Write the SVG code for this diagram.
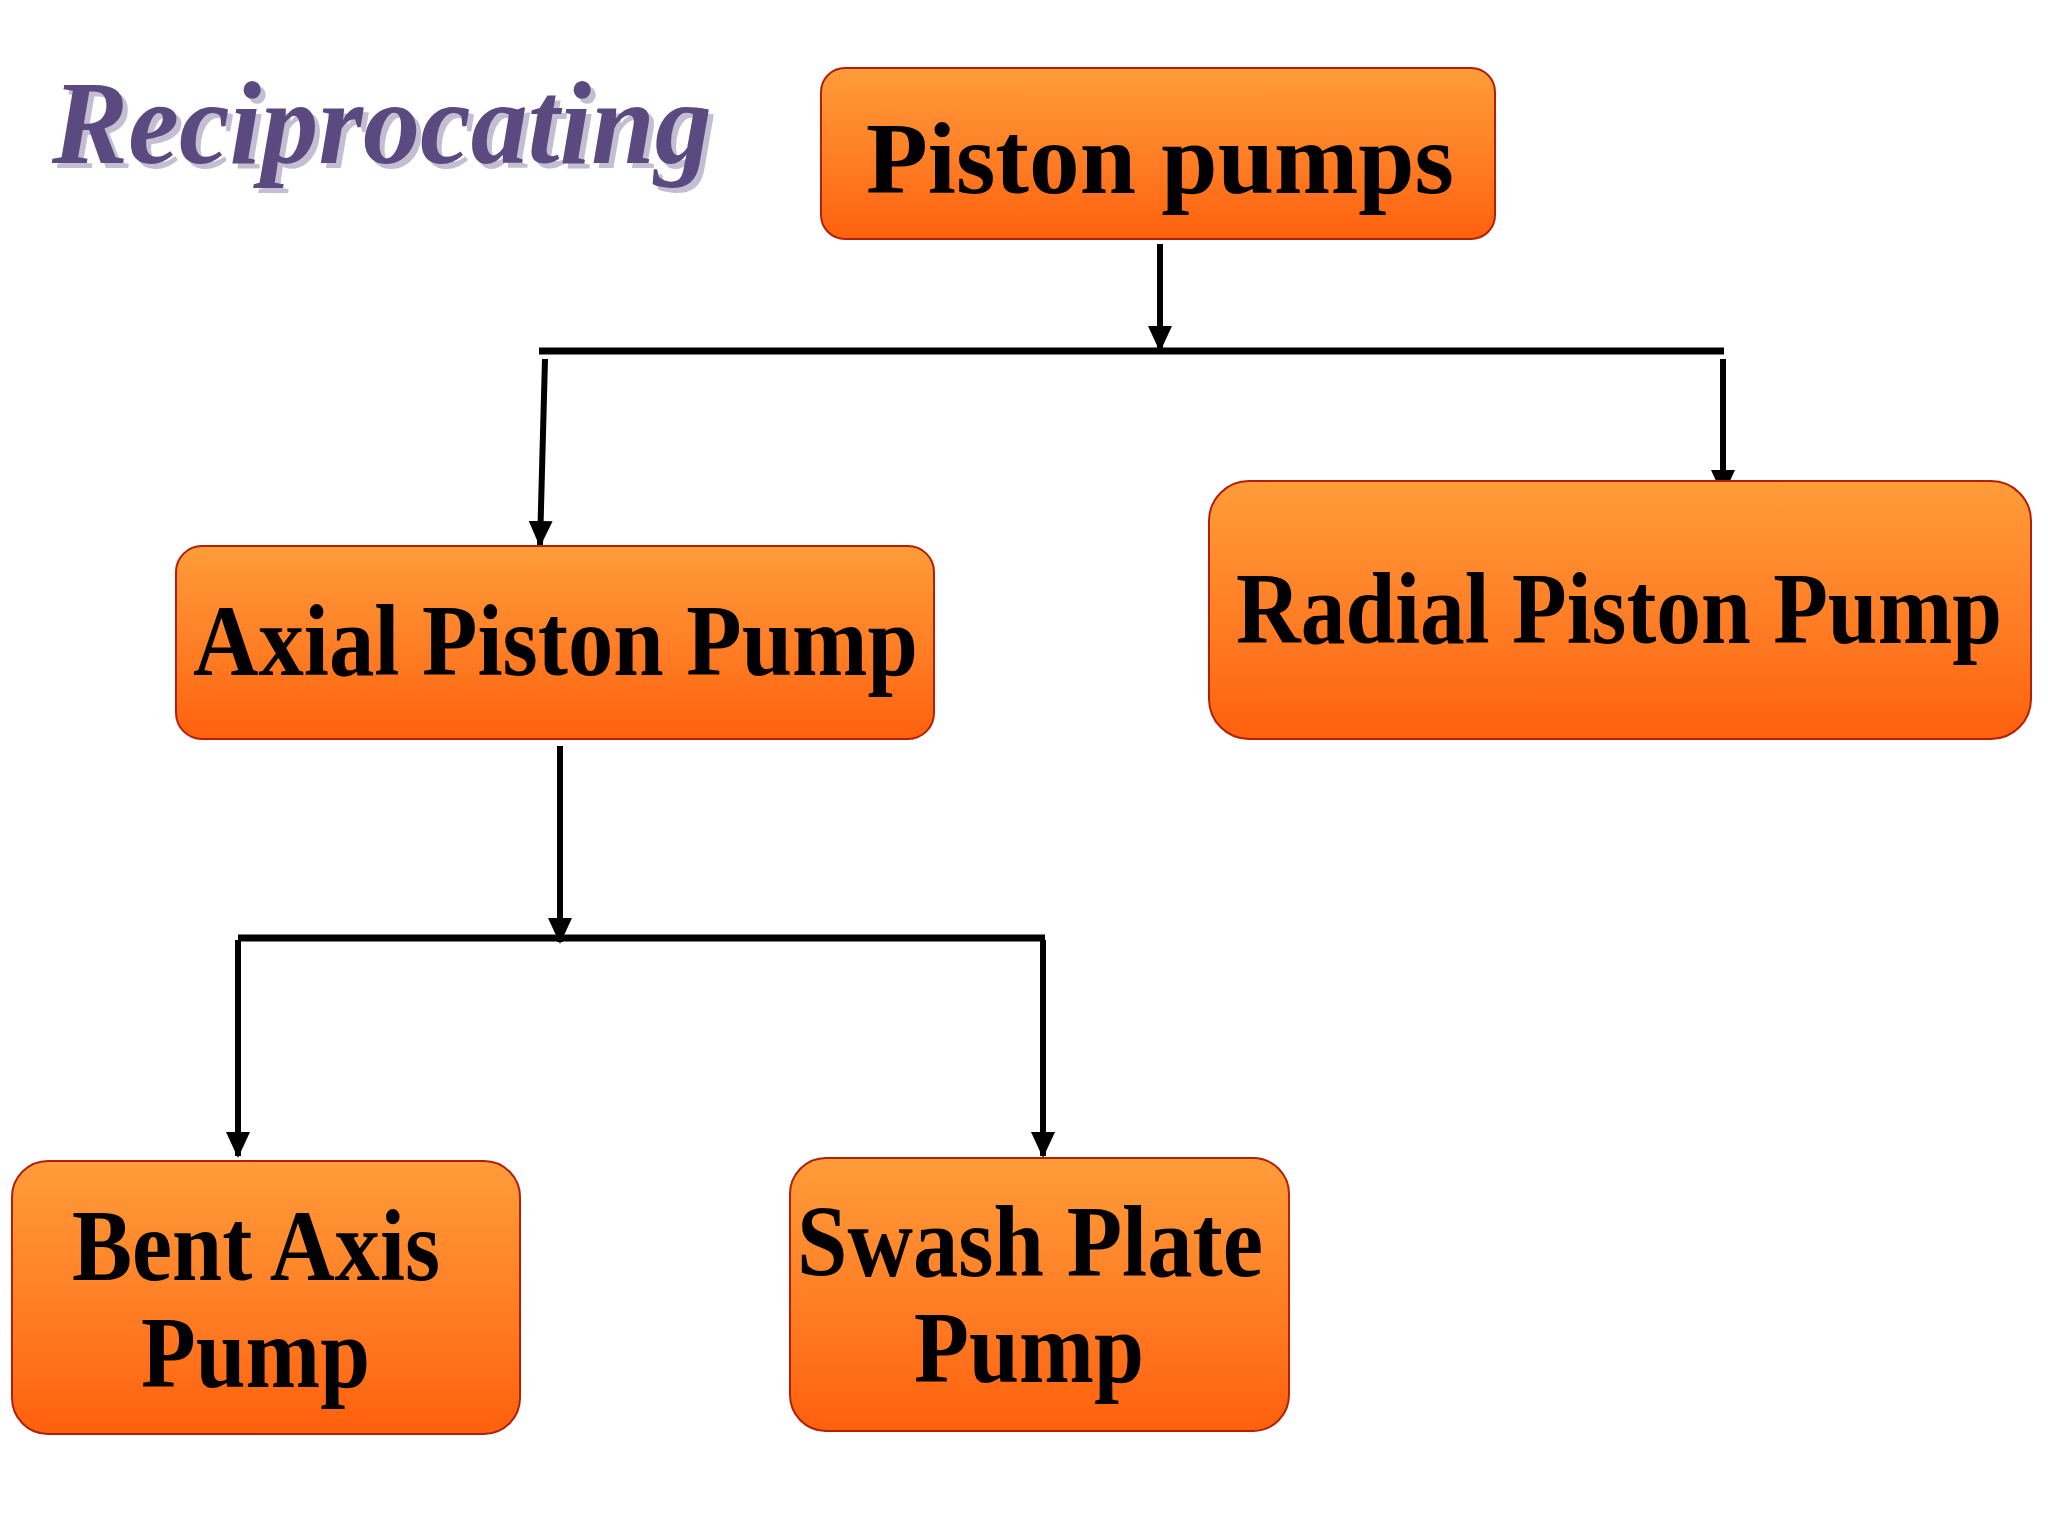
<svg xmlns="http://www.w3.org/2000/svg" width="2048" height="1536" viewBox="0 0 2048 1536">
<defs>
<linearGradient id="g" x1="0" y1="0" x2="0" y2="1"><stop offset="0" stop-color="#ff9c3a"/><stop offset="0.6" stop-color="#ff7a22"/><stop offset="1" stop-color="#ff600c"/></linearGradient>
<style>
.b{fill:url(#g);stroke:#b0200a;stroke-width:2}
.t{font-family:"Liberation Serif",serif;font-weight:bold;font-size:102px;fill:#000}
.c{stroke:#000;stroke-width:7;fill:none}
.ar{stroke:#000;stroke-width:6;fill:none}
</style>
<marker id="h" markerWidth="26" markerHeight="24" refX="24" refY="12" orient="auto" markerUnits="userSpaceOnUse" viewBox="0 0 26 24"><path d="M0,0 L26,12 L0,24 Z" fill="#000"/></marker>
</defs>
<rect width="2048" height="1536" fill="#fff"/>
<g id="title">
<text x="57" y="168" font-family="Liberation Serif,serif" font-style="italic" font-weight="bold" font-size="118" fill="#c4bed2" textLength="660" lengthAdjust="spacingAndGlyphs">Reciprocating</text>
<text x="52" y="163" font-family="Liberation Serif,serif" font-style="italic" font-weight="bold" font-size="118" fill="#5a4a80" textLength="660" lengthAdjust="spacingAndGlyphs">Reciprocating</text>
</g>
<g id="connectors">
<path class="c" d="M539,351 H1724 M238,938 H1045"/>
<path class="ar" d="M1160,244 V350" marker-end="url(#h)"/>
<path class="ar" d="M545,359 L540,545" marker-end="url(#h)"/>
<path class="ar" d="M1723,359 V494" marker-end="url(#h)"/>
<path class="ar" d="M560,746 V942" marker-end="url(#h)"/>
<path class="ar" d="M238,940 V1156" marker-end="url(#h)"/>
<path class="ar" d="M1043,940 V1156" marker-end="url(#h)"/>
</g>
<g id="piston"><rect class="b" x="821" y="68" width="674" height="171" rx="24"/><text class="t" x="866" y="193" textLength="588" lengthAdjust="spacingAndGlyphs">Piston pumps</text></g>
<g id="axial"><rect class="b" x="176" y="546" width="758" height="193" rx="26"/><text class="t" x="193" y="675" textLength="725" lengthAdjust="spacingAndGlyphs">Axial Piston Pump</text></g>
<g id="radial"><rect class="b" x="1209" y="481" width="822" height="258" rx="40"/><text class="t" x="1236" y="643" textLength="766" lengthAdjust="spacingAndGlyphs">Radial Piston Pump</text></g>
<g id="bent"><rect class="b" x="12" y="1161" width="508" height="273" rx="36"/><text class="t" x="72" y="1280" textLength="368" lengthAdjust="spacingAndGlyphs">Bent Axis</text><text class="t" x="141" y="1387" textLength="229" lengthAdjust="spacingAndGlyphs">Pump</text></g>
<g id="swash"><rect class="b" x="790" y="1158" width="499" height="273" rx="36"/><text class="t" x="797" y="1276" textLength="466" lengthAdjust="spacingAndGlyphs">Swash Plate</text><text class="t" x="914" y="1382" textLength="230" lengthAdjust="spacingAndGlyphs">Pump</text></g>
</svg>
